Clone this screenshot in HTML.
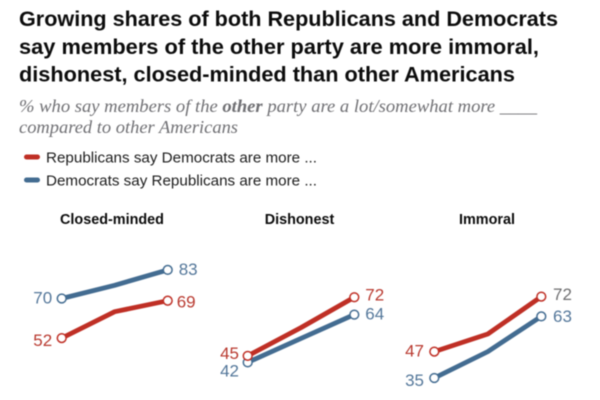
<!DOCTYPE html>
<html lang="en">
<head>
<meta charset="utf-8">
<title>Partisan views of the other party</title>
<style>
html,body{margin:0;padding:0;background:#fff;}
#root{position:relative;width:600px;height:400px;overflow:hidden;background:#fff;filter:blur(0.5px);}
svg{position:absolute;left:0;top:0;}
.title{font-family:"Liberation Sans",sans-serif;font-weight:700;font-size:21.7px;fill:#0c0c0c;}
.sub{font-family:"Liberation Serif",serif;font-style:italic;font-size:18.4px;fill:#707074;}
.leg{font-family:"Liberation Sans",sans-serif;font-size:15.2px;fill:#1c1c1c;}
.panel-title{font-family:"Liberation Sans",sans-serif;font-weight:700;font-size:14.4px;fill:#0c0c0c;text-anchor:middle;}
.val{font-family:"Liberation Sans",sans-serif;font-size:17px;}
</style>
</head>
<body>
<div id="root">
<svg id="chart" width="600" height="400" viewBox="0 0 600 400" xmlns="http://www.w3.org/2000/svg">
  <g>
    <text class="title" x="19" y="26" textLength="539" lengthAdjust="spacingAndGlyphs">Growing shares of both Republicans and Democrats</text>
    <text class="title" x="19" y="54" textLength="520" lengthAdjust="spacingAndGlyphs">say members of the other party are more immoral,</text>
    <text class="title" x="19" y="81.7" textLength="496" lengthAdjust="spacingAndGlyphs">dishonest, closed-minded than other Americans</text>
  </g>
  <g>
    <text class="sub" x="19" y="112" textLength="518" lengthAdjust="spacingAndGlyphs">% who say members of the <tspan font-weight="700">other</tspan> party are a lot/somewhat more ____</text>
    <text class="sub" x="19" y="133" textLength="219" lengthAdjust="spacingAndGlyphs">compared to other Americans</text>
  </g>
  <g>
    <g>
      <line x1="26.5" y1="157" x2="37.5" y2="157" stroke="#bf2f25" stroke-width="5" stroke-linecap="round"></line>
      <text class="leg" x="46" y="162.5" textLength="271" lengthAdjust="spacingAndGlyphs">Republicans say Democrats are more ...</text>
    </g>
    <g>
      <line x1="26.5" y1="180" x2="37.5" y2="180" stroke="#436c91" stroke-width="5" stroke-linecap="round"></line>
      <text class="leg" x="46" y="185.5" textLength="271" lengthAdjust="spacingAndGlyphs">Democrats say Republicans are more ...</text>
    </g>
  </g>
  <g id="panels"></g>
</svg>
</div>
<script>
// Data (the middle wave has no printed value, so it is estimated)
const panelNames = ["Closed-minded", "Dishonest", "Immoral"];
const waves = ["first", "middle", "last"];
const closedMindedRep = [52, 64, 69];
const closedMindedDem = [70, 76, 83];
const dishonestRep = [45, 58, 72];
const dishonestDem = [42, 53, 64];
const immoralRep = [47, 55, 72];
const immoralDem = [35, 47, 63];

const RED = "#bf2f25";
const BLUE = "#436c91";
const RED_TEXT = "#b93a30";
const BLUE_TEXT = "#54779a";
const SVGNS = "http://www.w3.org/2000/svg";
const panelsRoot = document.getElementById("panels");

// Layout only: each panel's axes and label placement
const layouts = [
  {rep: closedMindedRep, dem: closedMindedDem, x0: 61.7, x1: 167.7, base: 452.5, perUnit: 2.2, titleX: 112,
   repL: [-9.5, 2], demL: [-9.5, -1], repR: [9, 1], demR: [11, -1], repRightFill: RED_TEXT},
  {rep: dishonestRep, dem: dishonestDem, x0: 247.7, x1: 354.3, base: 453.5, perUnit: 2.17, titleX: 299.5,
   repL: [-8.7, -3], demL: [-8.7, 8], repR: [11, -3], demR: [11, -1], repRightFill: RED_TEXT},
  {rep: immoralRep, dem: immoralDem, x0: 434.3, x1: 541.3, base: 455, perUnit: 2.2, titleX: 487,
   repL: [-10.3, -1], demL: [-10.3, 2], repR: [11.7, -2.6], demR: [11.7, -0.4], repRightFill: "#6e6e70"}
];

function xScale(p, i) {
  return p.x0 + (p.x1 - p.x0) * i / (waves.length - 1);
}
function yScale(p, v) {
  return p.base - p.perUnit * v;
}

function addLabel(group, text, x, y, anchor, fill) {
  const t = document.createElementNS(SVGNS, "text");
  t.setAttribute("class", "val");
  t.setAttribute("x", x);
  t.setAttribute("y", y + 6);
  t.setAttribute("text-anchor", anchor);
  t.setAttribute("fill", fill);
  
  
  t.textContent = text;
  group.appendChild(t);
}

function drawSeries(group, p, values, color, textColor, nudgeL, nudgeR, rightFill) {
  const line = document.createElementNS(SVGNS, "polyline");
  const pts = values.map(function (v, i) { return xScale(p, i) + "," + yScale(p, v); }).join(" ");
  line.setAttribute("points", pts);
  line.setAttribute("fill", "none");
  line.setAttribute("stroke", color);
  line.setAttribute("stroke-width", "4.8");
  line.setAttribute("stroke-linejoin", "round");
  
  
  group.appendChild(line);

  const last = values.length - 1;
  [0, last].forEach(function (i) {
    const c = document.createElementNS(SVGNS, "circle");
    c.setAttribute("cx", xScale(p, i));
    c.setAttribute("cy", yScale(p, values[i]));
    c.setAttribute("r", "4.4");
    c.setAttribute("fill", "#fff");
    c.setAttribute("stroke", color);
    c.setAttribute("stroke-width", "1.5");
    
    
    group.appendChild(c);
  });

  addLabel(group, String(values[0]), xScale(p, 0) + nudgeL[0], yScale(p, values[0]) + nudgeL[1], "end", textColor);
  addLabel(group, String(values[last]), xScale(p, last) + nudgeR[0], yScale(p, values[last]) + nudgeR[1], "start", rightFill);
}

layouts.forEach(function (p, n) {
  const g = document.createElementNS(SVGNS, "g");
  
  
  panelsRoot.appendChild(g);

  const title = document.createElementNS(SVGNS, "text");
  title.setAttribute("class", "panel-title");
  title.setAttribute("x", p.titleX);
  title.setAttribute("y", 224);
  
  
  title.textContent = panelNames[n];
  g.appendChild(title);

  drawSeries(g, p, p.dem, BLUE, BLUE_TEXT, p.demL, p.demR, BLUE_TEXT);
  drawSeries(g, p, p.rep, RED, RED_TEXT, p.repL, p.repR, p.repRightFill);
});
</script>
</body>
</html>
